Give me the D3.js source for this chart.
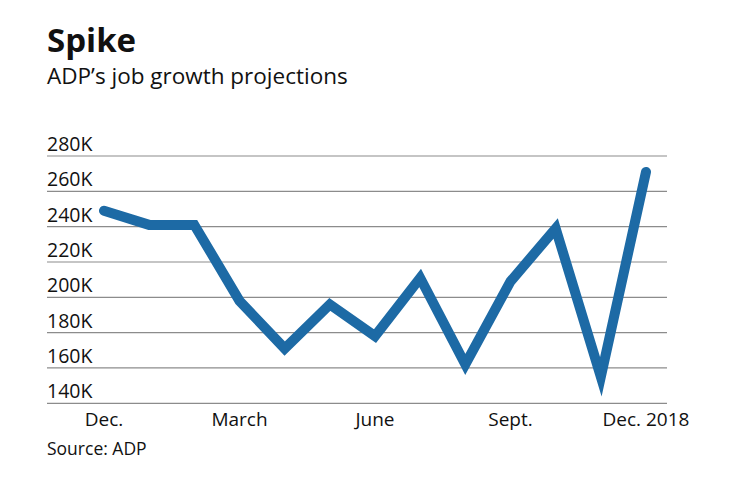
<!DOCTYPE html>
<html>
<head>
<meta charset="utf-8">
<script src="https://cdn.jsdelivr.net/npm/d3@7"></script>
<style>
  html, body { margin: 0; padding: 0; background: #fff; }
  svg { display: block; font-family: "Open Sans", "Lato", sans-serif; }
</style>
</head>
<body>
<div id="chart"></div>
<script>
/* ── data ─────────────────────────────────────────────── */
const months = ['Dec 2017', 'Jan', 'Feb', 'March', 'Apr', 'May', 'June',
                'Jul', 'Aug', 'Sept.', 'Oct', 'Nov', 'Dec. 2018'];
const jobs = [249, 241, 241, 198, 171, 196, 178, 211, 162, 209, 239, 155, 271]; // thousands
const yTicks = [140, 160, 180, 200, 220, 240, 260, 280];
const xTickMonths = ['Dec 2017', 'March', 'June', 'Sept.', 'Dec. 2018'];
const xTickLabels = ['Dec.', 'March', 'June', 'Sept.', 'Dec. 2018'];

/* ── layout ───────────────────────────────────────────── */
const W = 740, H = 482;
const GX0 = 47, GX1 = 667;       // gridline extent
const svg = d3.select('#chart').append('svg').attr('width', W).attr('height', H);

const x = d3.scalePoint().domain(months).range([104, 646]);
const y = d3.scaleLinear().domain([140, 280]).range([403.3, 156]);

// title block
svg.append('text').attr('x', 47).attr('y', 52)
  .attr('font-size', 33).attr('font-weight', 700).attr('fill', '#111')
  .text('Spike');
svg.append('text').attr('x', 47).attr('y', 84)
  .attr('font-size', 22.5).attr('fill', '#111')
  .text('ADP\u2019s job growth projections');

// gridlines + y labels
const grid = svg.append('g');
grid.selectAll('line').data(yTicks).join('line')
  .attr('x1', GX0).attr('x2', GX1)
  .attr('y1', d => y(d)).attr('y2', d => y(d))
  .attr('stroke', '#8c8c8c').attr('stroke-width', 1.2);
grid.selectAll('text').data(yTicks).join('text')
  .attr('x', GX0).attr('y', d => y(d) - 5)
  .attr('font-size', 19.5).attr('fill', '#111')
  .text(d => d + 'K');

// x labels
svg.append('g').selectAll('text').data(xTickMonths).join('text')
  .attr('x', d => x(d)).attr('y', 426)
  .attr('text-anchor', 'middle')
  .attr('font-size', 19).attr('fill', '#111')
  .text((d, i) => xTickLabels[i]);

// line
const line = d3.line().x((d, i) => x(months[i])).y(d => y(d));
svg.append('path').datum(jobs)
  .attr('d', line)
  .attr('fill', 'none')
  .attr('stroke', '#1d6aa5')
  .attr('stroke-width', 10)
  .attr('stroke-linejoin', 'miter')
  .attr('stroke-miterlimit', 10)
  .attr('stroke-linecap', 'round');

// source
svg.append('text').attr('x', 47).attr('y', 455)
  .attr('font-size', 17.5).attr('fill', '#111')
  .text('Source: ADP');
</script>
</body>
</html>
